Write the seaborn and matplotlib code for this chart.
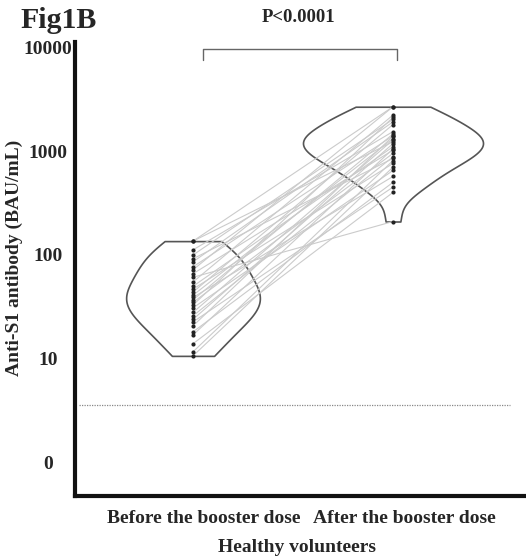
import numpy as np
import pandas as pd
import matplotlib
matplotlib.use("Agg")
import matplotlib.pyplot as plt
import matplotlib.transforms as mtransforms
import seaborn as sns

# Paired anti-S1 titres (BAU/mL) for each volunteer, before and after the booster
groups = ["Before the booster dose", "After the booster dose"]
before = [136, 136, 112, 100, 92, 86, 77, 72, 66, 61, 55, 50, 47, 44, 41,
          39, 37, 35, 33, 31, 28, 26, 24, 22.7, 20.8, 18.2, 17, 14, 11.7, 10.7]
after = [1230, 2670, 1540, 2020, 850, 1910, 1400, 2670, 1020, 210, 2220, 1100,
         760, 1800, 1320, 570, 1460, 950, 2110, 650, 1280, 880, 1180, 450,
         1390, 500, 1050, 400, 810, 700]
cutoff = 3.6
ytick_vals = [1, 10, 100, 1000, 10000]
ytick_labels = ["0", "10", "100", "1000", "10000"]
p_text = "P<0.0001"

n = len(before)
df = pd.DataFrame({
    "subject": list(range(n)) * 2,
    "group": [groups[0]] * n + [groups[1]] * n,
    "value": before + after,
})

sns.set_style("white")
plt.rcParams["font.family"] = ["Liberation Serif", "DejaVu Serif"]
plt.rcParams["font.weight"] = "bold"

W, H = 526, 558
fig = plt.figure(figsize=(W / 100, H / 100), dpi=100)
ax = fig.add_axes([75 / W, 1 - 496 / H, 1 - 75 / W, (496 - 42) / H])

sns.violinplot(data=df, x="group", y="value", order=groups, log_scale=True,
               cut=0, inner=None, width=0.9, density_norm="area",
               color="white", linecolor="#555555", linewidth=1.2, ax=ax)

# connecting line for each volunteer
pos = {g: i for i, g in enumerate(groups)}
for s, sub in df.groupby("subject"):
    sub = sub.set_index("group").loc[groups]
    ax.plot([pos[g] for g in groups], sub["value"].values,
            color="#cbcbcb", lw=0.8, zorder=3)

sns.stripplot(data=df, x="group", y="value", order=groups, jitter=False,
              color="#222222", size=3.0, zorder=4, ax=ax)

ax.set_xlim(-0.59, 1.665)
ax.set_ylim(0.48, 11200)
ax.hlines(cutoff, -0.57, 1.585, colors="#888888", linestyles=(0, (1, 1)),
          lw=0.9, zorder=2)

ax.set_yticks(ytick_vals)
ax.set_yticklabels(ytick_labels)
ax.yaxis.set_minor_locator(matplotlib.ticker.NullLocator())
ax.tick_params(axis="y", length=0, labelsize=14, pad=19.4)
ax.tick_params(axis="x", length=0, labelsize=14, pad=10)
for lab in ax.get_yticklabels():
    lab.set_fontweight("bold")
    lab.set_horizontalalignment("center")
shift = mtransforms.ScaledTranslation(11 / 100, 0, fig.dpi_scale_trans)
for lab in ax.get_xticklabels():
    lab.set_fontweight("bold")
    lab.set_transform(lab.get_transform() + shift)

ax.set_xlabel("")
ax.set_ylabel("")
fig.text(14 / W, 1 - 258 / H, "Anti-S1 antibody (BAU/mL)", rotation=90,
         ha="center", va="center", fontsize=14, fontweight="bold")
fig.text(297 / W, 1 - 547 / H, "Healthy volunteers", ha="center",
         va="center", fontsize=14, fontweight="bold")

for side in ["top", "right"]:
    ax.spines[side].set_visible(False)
for side in ["left", "bottom"]:
    ax.spines[side].set_linewidth(3)
    ax.spines[side].set_color("#111111")

# significance bracket
bx0, bx1 = 0.05, 1.02
by0, by1 = 7500, 9500
ax.plot([bx0, bx0, bx1, bx1], [by0, by1, by1, by0], color="#666666",
        lw=1.0, clip_on=False)
fig.text(299 / W, 1 - 18 / H, p_text, ha="center", va="center",
         fontsize=13.5, fontweight="bold")
fig.text(20 / W, 1 - 28 / H, "Fig1B", ha="left", va="baseline",
         fontsize=21.5, fontweight="bold")

fig.savefig("out.png", dpi=100, facecolor="white")
